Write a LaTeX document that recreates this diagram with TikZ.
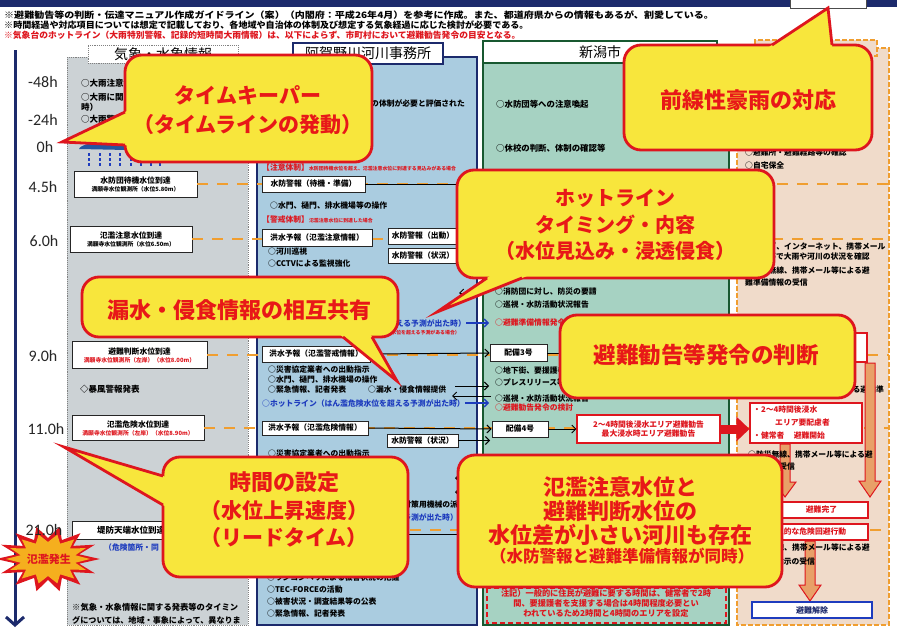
\documentclass[tikz,border=0pt]{standalone}
\usepackage{graphicx}
\usepackage{fontspec}
\setmainfont{Noto Sans CJK JP}
\newfontfamily\tmfont{Carlito}
\usetikzlibrary{arrows.meta,calc}
\definecolor{cyel}{RGB}{248,230,60}
\definecolor{cred}{RGB}{222,22,30}
\definecolor{ctxt}{RGB}{232,24,24}
\definecolor{navyc}{RGB}{28,42,108}
\definecolor{pgray}{RGB}{204,210,213}
\definecolor{pblue}{RGB}{170,204,224}
\definecolor{pgreen}{RGB}{166,210,194}
\definecolor{pbeige}{RGB}{240,219,202}
\definecolor{corg}{RGB}{240,158,48}
\definecolor{dkg}{RGB}{24,88,48}
\definecolor{barr}{RGB}{232,160,104}
\definecolor{rainb}{RGB}{36,86,160}
\definecolor{tblue}{RGB}{30,60,190}
\definecolor{starf}{RGB}{245,175,30}
\newcommand\calloutptr[3]{%
  \fill[cyel] (#1) -- ($(#1)!1.12!(#2)$) -- ($(#1)!1.12!(#3)$) -- cycle;
  \draw[cl] (#2) -- (#1) -- (#3);}
\tikzset{
 co/.style={draw=cred, line width=2.8pt, fill=cyel, rounded corners=17pt},
 cl/.style={draw=cred, line width=2.8pt, line join=miter, line cap=butt},
 ct/.style={text=ctxt, inner sep=0pt, font=\bfseries\fontsize{21}{24}\selectfont},
 wbx/.style={draw=black!85, line width=0.9pt, fill=white, inner sep=0pt, font=\bfseries\fontsize{7.8}{9}\selectfont},
 tx/.style={anchor=west, inner sep=0pt, font=\bfseries\fontsize{7.8}{9}\selectfont},
 tlin/.style={draw=corg, line width=2.6pt, dash pattern=on 11pt off 9pt},
 cn/.style={draw=black, line width=1pt},
 arw/.style={-{Straight Barb[length=4pt,width=8pt]}},
 bigarr/.style={fill=barr, draw=cred, line width=1pt},
 rbx/.style={draw=cred, line width=1.1pt, fill=white, text=cred, inner sep=0pt, font=\bfseries\fontsize{7.8}{9.5}\selectfont},
 tmx/.style={inner sep=0pt, text=black!85, font=\tmfont\fontsize{16}{18}\selectfont},
 hdr/.style={inner sep=0pt, font=\fontsize{14}{15}\selectfont},
}
\begin{document}
\begin{tikzpicture}[x=1pt,y=-1pt]
\useasboundingbox (0,0) rectangle (897,629);
\fill[white] (0,0) rectangle (897,629);
% top band
\fill[navyc] (0,0) rectangle (897,7);
\node[draw=black!70, line width=0.8pt, fill=white, minimum width=76, minimum height=12, inner sep=0] (tag) at (828,2) {};
% header notes
\node[tx, font=\bfseries\fontsize{8.8}{10}\selectfont] (n1) at (4,15) {\scalebox{1.14}[1]{※避難勧告等の判断・伝達マニュアル作成ガイドライン（案）（内閣府：平成26年4月）を参考に作成。また、都道府県からの情報もあるが、割愛している。}};
\node[tx, font=\bfseries\fontsize{8.8}{10}\selectfont] (n2) at (4,25) {\scalebox{1.03}[1]{※時間経過や対応項目については想定で記載しており、各地域や自治体の体制及び想定する気象経過に応じた検討が必要である。}};
\node[tx, text=cred, font=\bfseries\fontsize{8.6}{10}\selectfont] (n3) at (4,35) {\scalebox{1.02}[1]{※気象台のホットライン（大雨特別警報、記録的短時間大雨情報）は、以下によらず、市町村において避難勧告発令の目安となる。}};

% panels
\fill[pgray] (67,57) rectangle (248,625);
\draw[gray, densely dotted, line width=0.9pt] (67,57) rectangle (248,625);
\node[draw=gray, densely dotted, line width=0.9pt, fill=white, minimum width=150, minimum height=18, hdr] (h1) at (163,54) {気象・水象情報};
\fill[pblue] (257,57) rectangle (477,625);
\draw[navyc, line width=1.6pt] (257,57) rectangle (477,625);
\node[draw=navyc, line width=1.6pt, fill=white, minimum width=150, minimum height=21, hdr] (h2) at (368,53.5) {阿賀野川河川事務所};
\fill[pgreen] (483,63) rectangle (729,625);
\draw[dkg, line width=1.8pt] (483,63) rectangle (729,625);
\node[draw=dkg, line width=1.8pt, fill=white, minimum width=234, minimum height=22, hdr] (h3) at (600,52) {新潟市};
\fill[pbeige] (737,48) rectangle (889,625);
\draw[corg, line width=1.2pt, dash pattern=on 5pt off 2pt] (737,48) rectangle (889,625);
\node[draw=corg, line width=1.2pt, dash pattern=on 5pt off 2pt, fill=pbeige, minimum width=122, minimum height=16, inner sep=0] (h4) at (816,48) {};
\coordinate (rgt) at (889,0);

% time axis
\coordinate (ax0) at (15,50);
\coordinate (ax1) at (15,627);
\draw[navyc, line width=3pt, -{Straight Barb[length=8pt,width=18pt]}] (ax0) -- (ax1);

% column 1
\node[tx, font=\bfseries\fontsize{8.5}{9}\selectfont] (c1a) at (81,83) {○大雨注意報};
\node[tx, font=\bfseries\fontsize{8.5}{9}\selectfont] (c1b) at (81,97) {○大雨に関する};
\node[tx, font=\bfseries\fontsize{8.5}{9}\selectfont] (c1c) at (81,107) {時）};
\node[tx, font=\bfseries\fontsize{8.5}{9}\selectfont] (c1d) at (81,119) {○大雨警報};
\fill[rainb] (79,149) .. controls (82,141) and (120,140) .. (127,144) -- (127,150) -- cycle;
\foreach \xx in {89,100,110,120,131,141,151,160}
  \draw[tblue, line width=1.2pt, dash pattern=on 3pt off 2pt] (\xx,153) -- (\xx,167);
\node[wbx, minimum width=123, minimum height=26, align=center] (k1) at (135.5,184) {水防団待機水位到達\\[-1pt]{\fontsize{5.8}{7}\selectfont 満願寺水位観測所（水位5.80m）}};
\node[wbx, minimum width=122, minimum height=26, align=center] (k2) at (131,239) {氾濫注意水位到達\\[-1pt]{\fontsize{5.8}{7}\selectfont 満願寺水位観測所（水位6.50m）}};
\node[wbx, minimum width=135, minimum height=27, align=center] (k3) at (139.5,355) {避難判断水位到達\\[-1pt]{\color{cred}\fontsize{5.8}{7}\selectfont 満願寺水位観測所（左岸）（水位8.00m）}};
\node[tx, font=\bfseries\fontsize{8.5}{9}\selectfont] (c1e) at (80,389) {◇暴風警報発表};
\node[wbx, minimum width=132, minimum height=25, align=center] (k4) at (138,428) {氾濫危険水位到達\\[-1pt]{\color{cred}\fontsize{5.8}{7}\selectfont 満願寺水位観測所（左岸）（水位8.90m）}};
\node[wbx, minimum width=118, minimum height=18, font=\bfseries\fontsize{8.5}{9}\selectfont] (k5) at (131,530) {堤防天端水位到達};
\node[tx, text=tblue, font=\bfseries\fontsize{7.8}{9}\selectfont] (c1f) at (104,548) {（危険箇所・同};
\node[tx, font=\bfseries\fontsize{8.3}{9}\selectfont] (c1g) at (72,607) {※気象・水象情報に関する発表等のタイミン};
\node[tx, font=\bfseries\fontsize{8.1}{9}\selectfont] (c1h) at (72,620) {グについては、地域・事象によって、異なりま};

% time lines
\draw[tlin] (k1.east) -- (k1.east -| rgt);
\draw[tlin] (k2.east) -- (k2.east -| rgt);
\draw[tlin] (k3.east) -- (k3.east -| rgt);
\draw[tlin] (k4.east) -- (k4.east -| rgt);
\draw[tlin] (k5.east) -- (k5.east -| rgt);

% column 2
\node[tx, anchor=east] (c2a) at (465,103) {○水防団待機の体制が必要と評価された};
\node[tx, text=cred] (c2b) at (262,168) {【注意体制】{\fontsize{4.9}{5}\selectfont 水防団待機水位を超え、氾濫注意水位に到達する見込みがある場合}};
\node[wbx, minimum width=103, minimum height=16] (wa) at (313.5,184) {水防警報（待機・準備）};
\node[tx] (c2c) at (270,206) {○水門、樋門、排水機場等の操作};
\node[tx, text=cred] (c2d) at (262,220) {【警戒体制】{\fontsize{4.9}{5}\selectfont 氾濫注意水位に到達した場合}};
\node[wbx, minimum width=110, minimum height=17] (wb) at (317,238) {洪水予報（氾濫注意情報）};
\node[wbx, minimum width=70, minimum height=16] (wc) at (423,236) {水防警報（出動）};
\node[wbx, minimum width=70, minimum height=15] (wd) at (423,255.5) {水防警報（状況）};
\node[tx] (c2e) at (268,252) {○河川巡視};
\node[tx] (c2f) at (268,264) {○CCTVによる監視強化};
\node[tx, anchor=east, text=tblue] (c2g) at (466,323) {を超える予測が出た時）};
\node[tx, anchor=east, text=cred, font=\bfseries\fontsize{4.9}{5}\selectfont] (c2h) at (460,333) {（避難判断水位を超える予測がある場合）};
\node[wbx, minimum width=108, minimum height=16] (we) at (316,354) {洪水予報（氾濫警戒情報）};
\node[tx] (c2i) at (268,370) {○災害協定業者への出動指示};
\node[tx] (c2j) at (268,380) {○水門、樋門、排水機場の操作};
\node[tx] (c2k) at (268,390) {○緊急情報、記者発表};
\node[tx] (c2l) at (368,390) {○漏水・侵食情報提供};
\node[tx, text=tblue] (c2m) at (262,403) {○ホットライン（はん濫危険水位を超える予測が出た時）};
\node[wbx, minimum width=106, minimum height=14] (wf) at (315,428) {洪水予報（氾濫危険情報）};
\node[wbx, minimum width=71, minimum height=13] (wg) at (422.5,440.5) {水防警報（状況）};
\node[tx] (c2n) at (268,454) {○災害協定業者への出動指示};
\node[tx, anchor=east] (c2o) at (466,505) {○災害対策用機械の派遣};
\node[tx, anchor=east, text=tblue] (c2p) at (458,517) {（予測が出た時）};
\node[tx] (c2q) at (267,566) {○災害応急対策業務等協定業者};
\node[tx] (c2r) at (267,578) {○ラジコンヘリによる被害状況の把握};
\node[tx] (c2s) at (267,590) {○TEC-FORCEの活動};
\node[tx] (c2t) at (267,602) {○被害状況・調査結果等の公表};
\node[tx] (c2u) at (267,614) {○緊急情報、記者発表};

% column 3
\node[tx, font=\bfseries\fontsize{8.4}{9}\selectfont] (c3a) at (496,104) {○水防団等への注意喚起};
\node[tx, font=\bfseries\fontsize{8.4}{9}\selectfont] (c3b) at (496,148) {○休校の判断、体制の確認等};
\node[tx] (c3c) at (495,292) {○消防団に対し、防災の要請};
\node[tx] (c3d) at (495,305) {○巡視・水防活動状況報告};
\node[tx, text=cred] (c3e) at (495,323) {○避難準備情報発令};
\node[wbx, minimum width=57, minimum height=17] (wh) at (518.5,353) {配備3号};
\node[tx] (c3f) at (495,371) {○地下街、要援護者施設への情報提供};
\node[tx] (c3g) at (495,382) {○プレスリリース等};
\node[tx] (c3h) at (495,399) {○巡視・水防活動状況報告};
\node[tx, text=cred] (c3i) at (495,408) {○避難勧告発令の検討};
\node[wbx, minimum width=56, minimum height=16] (wi) at (520,429) {配備4号};
\node[rbx, minimum width=143, minimum height=28, align=center] (rb1) at (648.5,429) {2～4時間後浸水エリア避難勧告\\最大浸水時エリア避難勧告};
\draw[cred, line width=1.2pt, dash pattern=on 5pt off 3pt] (487,588) rectangle (726,623);
\node[tx, text=cred, anchor=center, align=center, font=\bfseries\fontsize{8.2}{10}\selectfont] (nt) at (606,603) {注記）一般的に住民が避難に要する時間は、健常者で2時\\間、要援護者を支援する場合は4時間程度必要とい\\われているため2時間と4時間のエリアを設定};

% column 4
\node[tx] (c4a) at (745,153) {○避難所・避難経路等の確認};
\node[tx] (c4b) at (745,166) {○自宅保全};
\node[tx] (c4c) at (745,246) {○テレビ、インターネット、携帯メール};
\node[tx] (c4d) at (768,257) {等で大雨や河川の状況を確認};
\node[tx] (c4e) at (745,271) {○防災無線、携帯メール等による避};
\node[tx] (c4f) at (745,283) {難準備情報の受信};
\node[rbx, minimum width=119, minimum height=29] (rb0) at (807.5,347.5) {};
\node[tx, anchor=east] (c4g) at (884,390) {○防災無線、携帯メール等による避難準};
\draw[bigarr] (865,363) -- (875,363) -- (875,481) -- (881,481) -- (870,497) -- (859,481) -- (865,481) -- cycle;
\node[rbx, minimum width=112, minimum height=40] (rb2) at (806,423) {};
\node[tx, text=cred] (r2a) at (753,410) {・2～4時間後浸水};
\node[tx, text=cred] (r2b) at (775,423) {エリア要配慮者};
\node[tx, text=cred] (r2c) at (753,436) {・健常者\hspace{1.2em}避難開始};
\draw[bigarr] (780,444) -- (790,444) -- (790,482) -- (796,482) -- (785,497) -- (774,482) -- (780,482) -- cycle;
\node[tx] (c4h) at (748,455) {○防災無線、携帯メール等による避};
\node[tx] (c4i) at (748,467) {難勧告の受信};
\node[rbx, minimum width=93, minimum height=16] (rb3) at (821.5,510) {避難完了};
\node[rbx, minimum width=118, minimum height=16] (rb4) at (809,532) {};
\node[tx, text=cred] (r4a) at (768,532) {緊急的な危険回避行動};
\draw[bigarr] (805,541) -- (815,541) -- (815,585) -- (821,585) -- (810,601) -- (799,585) -- (805,585) -- cycle;
\node[tx] (c4j) at (745,548) {○防災無線、携帯メール等による避};
\node[tx] (c4k) at (768,562) {難指示の受信};
\node[draw=tblue, line width=1.1pt, fill=white, text=navyc, minimum width=120, minimum height=16, inner sep=0, font=\bfseries\fontsize{8}{9}\selectfont] (bb) at (812,610) {避難解除};

% connectors
\coordinate (p1) at (480,184);
\coordinate (p2) at (565,353);
\coordinate (q1) at (490,440.5);
\coordinate (r1a) at (455,386);
\coordinate (r1b) at (489,386);
\coordinate (r2s) at (491,396);
\coordinate (r2e) at (452,396);
\coordinate (b1) at (489,323);
\coordinate (b2) at (489,403);
\coordinate (l1a) at (481,293);
\coordinate (l1b) at (459,293);
\coordinate (l2a) at (479,478);
\coordinate (l2b) at (455,478);
\coordinate (l3a) at (479,492);
\coordinate (l3b) at (455,492);
\coordinate (m1) at (408,534);
\coordinate (m2) at (490,534);
\draw[cn] (wa.east) -- (p1);
\draw[cn, arw] (we.east) -- (wh.west);
\draw[cn] (wh.east) -- (p2);
\draw[cn, arw] (wf.east) -- (wi.west);
\draw[cn, arw] (wg.east) -- (q1);
\draw[cn, arw] (wi.east) -- (rb1.west);
\draw[cn, arw] (r1a) -- (r1b);
\draw[cn, arw] (r2s) -- (r2e);
\draw[tblue, line width=1.3pt, arw] (c2g.east) -- (b1);
\draw[tblue, line width=1.3pt, arw] (c2m.east) -- (b2);
\draw[cn, arw] (l1a) -- (l1b);
\draw[cn, arw] (l2a) -- (l2b);
\draw[cn, arw] (l3a) -- (l3b);
\draw[cn] (m1) -- (m2);
\draw[cred, line width=9pt, -{Triangle[length=13pt,width=24pt]}] (rb1.east) -- (rb1.east -| rb2.west);

% burst
\fill[cred] plot[samples=29, domain=0:28, variable=\t] ({48+ifthenelse(mod(round(\t),2)==0,52,32)*cos(\t*360/28)}, {559+ifthenelse(mod(round(\t),2)==0,33,21)*sin(\t*360/28)}) -- cycle;
\fill[starf] plot[samples=29, domain=0:28, variable=\t] ({48+ifthenelse(mod(round(\t),2)==0,42,28)*cos(\t*360/28)}, {559+ifthenelse(mod(round(\t),2)==0,25,17)*sin(\t*360/28)}) -- cycle;
\node[inner sep=0, text=cred, font=\bfseries\fontsize{11}{12}\selectfont] (burst) at (49,559) {氾濫発生};

% time labels
\node[tmx] (t1) at (43,82) {-48h};
\node[tmx] (t2) at (43,120) {-24h};
\node[tmx] (t3) at (45,147) {0h};
\node[tmx] (t4) at (43,187) {4.5h};
\node[tmx] (t5) at (44,241) {6.0h};
\node[tmx] (t6) at (43,356) {9.0h};
\node[tmx] (t7) at (46,429) {11.0h};
\node[tmx] (t8) at (44,530) {21.0h};

% callouts
\draw[co] (125,55) rectangle (372,162);
\calloutptr{62,142}{125,112}{125,145}
\node[ct] (k1l1) at (248,95) {タイムキーパー};
\node[ct] (k1l2) at (248,125) {（タイムラインの発動）};

\draw[co] (624,45) rectangle (872,150);
\calloutptr{828,8}{772,45}{832,45}
\node[ct, font=\bfseries\fontsize{22}{24}\selectfont] (k2l1) at (748,100) {前線性豪雨の対応};

\draw[co] (457,170) rectangle (774,278);
\calloutptr{437,312}{487,278}{522,278}
\node[ct, font=\bfseries\fontsize{20}{24}\selectfont] (k3l1) at (615,198) {ホットライン};
\node[ct, font=\bfseries\fontsize{20}{24}\selectfont] (k3l2) at (615,225) {タイミング・内容};
\node[ct, font=\bfseries\fontsize{20}{24}\selectfont] (k3l3) at (615,251) {（水位見込み・浸透侵食）};

\draw[co] (82,277) rectangle (398,337);
\calloutptr{397,381}{343,337}{372,337}
\node[ct, font=\bfseries\fontsize{22}{24}\selectfont] (k4l1) at (239,310) {漏水・侵食情報の相互共有};

\draw[co] (560,315) rectangle (855,398);
\node[ct, font=\bfseries\fontsize{22.5}{24}\selectfont] (k5l1) at (706,355) {避難勧告等発令の判断};

\draw[co] (163,457) rectangle (408,577);
\calloutptr{64,447}{163,476}{163,505}
\node[ct, font=\bfseries\fontsize{22}{24}\selectfont] (k6l1) at (284,482) {時間の設定};
\node[ct, font=\bfseries\fontsize{21}{24}\selectfont] (k6l2) at (284,511) {（水位上昇速度）};
\node[ct, font=\bfseries\fontsize{21}{24}\selectfont] (k6l3) at (284,538) {（リードタイム）};

\draw[co] (458,455) rectangle (782,587);
\node[ct, font=\bfseries\fontsize{22}{24}\selectfont] (k7l1) at (620,487) {氾濫注意水位と};
\node[ct, font=\bfseries\fontsize{22}{24}\selectfont] (k7l2) at (620,511) {避難判断水位の};
\node[ct, font=\bfseries\fontsize{22}{24}\selectfont] (k7l3) at (620,535) {水位差が小さい河川も存在};
\node[ct, font=\bfseries\fontsize{16.5}{18}\selectfont] (k7l4) at (622,556) {（水防警報と避難準備情報が同時）};
\end{tikzpicture}
\end{document}
